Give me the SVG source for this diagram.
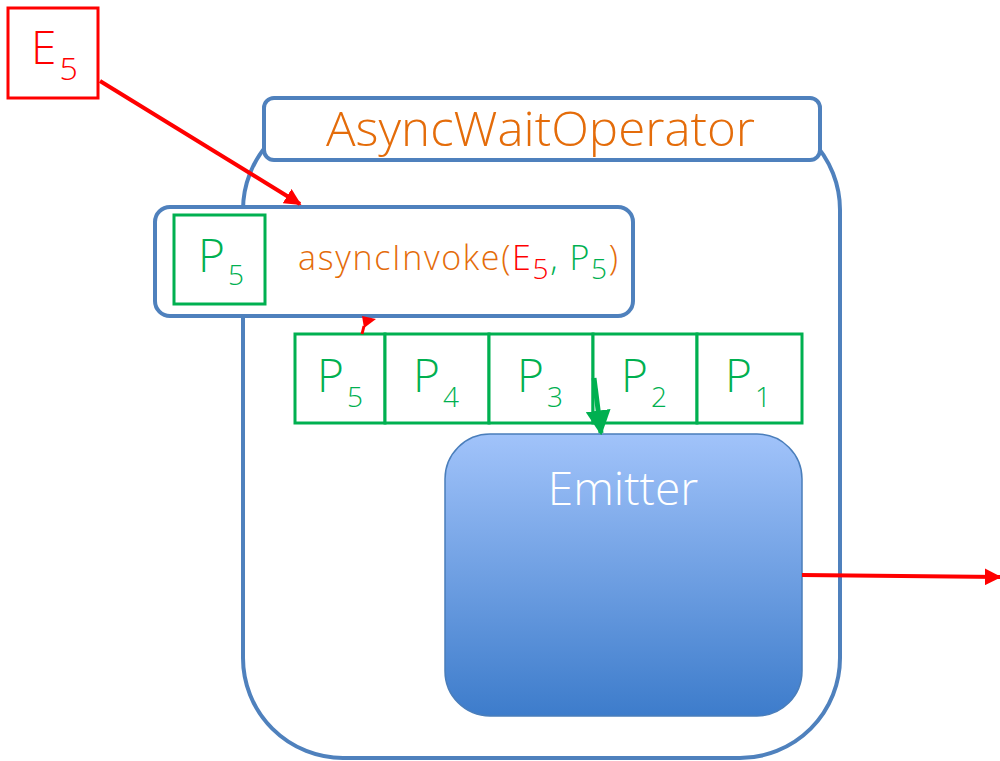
<svg xmlns="http://www.w3.org/2000/svg" width="1000" height="761" viewBox="0 0 1000 761">
  <defs>
    <linearGradient id="emitterFill" x1="0" y1="0" x2="0" y2="1">
      <stop offset="0" stop-color="#a1c3fa"/>
      <stop offset="1" stop-color="#3d7ccb"/>
    </linearGradient>
    <marker id="redHead" viewBox="0 0 10 10" refX="9" refY="5" markerWidth="4.2" markerHeight="4.2" orient="auto" markerUnits="strokeWidth">
      <path d="M0,0 L10,5 L0,10 z" fill="#ff0000"/>
    </marker>
    <marker id="greenHead" viewBox="0 0 10 10" refX="9" refY="5" markerWidth="5" markerHeight="5" orient="auto" markerUnits="strokeWidth">
      <path d="M0,0 L10,5 L0,10 z" fill="#00b050"/>
    </marker>
  </defs>
  <style>
    .blue { fill: #ffffff; stroke: #4f81bd; stroke-width: 4; }
    .cell { fill: #ffffff; stroke: #00b050; stroke-width: 3; }
    .txt { font-family: "Open Sans", "Liberation Sans", sans-serif; font-weight: 300; }
    .p { fill: #00b050; font-size: 46px; }
    .sub { font-size: 28px; }
    .red { fill: #ff0000; }
    .green { fill: #00b050; }
    .orange { fill: #e46c0a; }
    .wire { fill: none; stroke: #ff0000; stroke-width: 4; }
  </style>

  <!-- operator body and title -->
  <g id="operator">
    <rect class="blue" x="243" y="110" width="597" height="648" rx="100" ry="100"/>
    <rect class="blue" x="264" y="98" width="556" height="62" rx="10" ry="10"/>
    <text class="txt orange" x="326" y="146" font-size="47" textLength="429" lengthAdjust="spacingAndGlyphs">AsyncWaitOperator</text>
  </g>

  <!-- incoming element -->
  <g id="element-e5">
    <rect x="8" y="8" width="90" height="90" fill="#ffffff" stroke="#ff0000" stroke-width="3"/>
    <text class="txt red" x="31" y="64" font-size="46">E<tspan font-size="32" dx="3" dy="16">5</tspan></text>
  </g>

  <!-- asyncInvoke call -->
  <g id="invoke">
    <rect class="blue" x="155" y="207" width="478" height="109" rx="15" ry="15"/>
    <rect class="cell" x="174" y="215" width="91" height="89"/>
    <text class="txt p" x="198" y="272">P<tspan class="sub" dx="3" dy="13">5</tspan></text>
    <text class="txt orange" x="298" y="270" font-size="34" textLength="320" lengthAdjust="spacing">asyncInvoke(<tspan class="red">E</tspan><tspan class="red" font-size="28" dy="9">5</tspan><tspan class="green" dy="-9">, P</tspan><tspan class="green" font-size="28" dy="9">5</tspan><tspan dy="-9">)</tspan></text>
  </g>

  <!-- queue of pending promises -->
  <g id="queue">
    <g id="q-p5">
      <rect class="cell" x="295" y="334" width="90" height="89"/>
      <text class="txt p" x="317" y="392">P<tspan class="sub" dx="3" dy="15">5</tspan></text>
    </g>
    <g id="q-p4">
      <rect class="cell" x="385" y="334" width="104" height="89"/>
      <text class="txt p" x="413" y="392">P<tspan class="sub" dx="3" dy="15">4</tspan></text>
    </g>
    <g id="q-p3">
      <rect class="cell" x="489" y="334" width="104" height="89"/>
      <text class="txt p" x="517" y="392">P<tspan class="sub" dx="3" dy="15">3</tspan></text>
    </g>
    <g id="q-p2">
      <rect class="cell" x="593" y="334" width="104" height="89"/>
      <text class="txt p" x="621" y="392">P<tspan class="sub" dx="3" dy="15">2</tspan></text>
    </g>
    <g id="q-p1">
      <rect class="cell" x="697" y="334" width="105" height="89"/>
      <text class="txt p" x="725" y="392">P<tspan class="sub" dx="3" dy="15">1</tspan></text>
    </g>
  </g>

  <!-- emitter -->
  <g id="emitter">
    <rect x="445" y="434" width="357" height="282" rx="45" ry="45" fill="url(#emitterFill)" stroke="#4a7ebb" stroke-width="1.5"/>
    <text class="txt" x="623" y="505" font-size="46" fill="#ffffff" text-anchor="middle">Emitter</text>
  </g>

  <!-- connectors -->
  <g id="connectors">
    <line class="wire" x1="100" y1="81" x2="300" y2="204" marker-end="url(#redHead)"/>
    <path d="M362,334 L364,326" fill="none" stroke="#ff0000" stroke-width="3"/>
    <path d="M362,316 L376,319 L364,328 z" fill="#ff0000"/>
    <line x1="594" y1="378" x2="601" y2="433" stroke="#00b050" stroke-width="5" marker-end="url(#greenHead)"/>
    <line class="wire" x1="802" y1="575" x2="1000" y2="577" marker-end="url(#redHead)"/>
  </g>
</svg>
